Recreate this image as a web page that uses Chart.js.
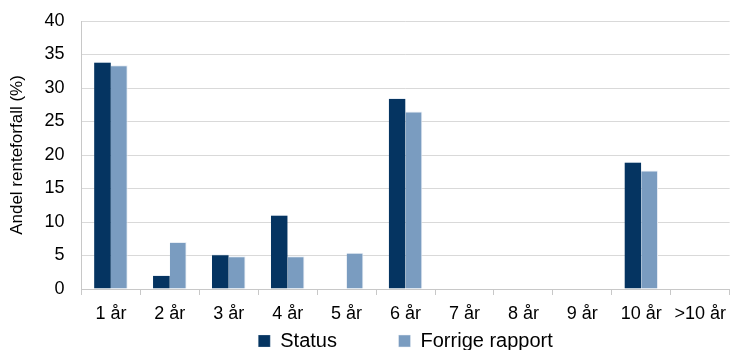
<!DOCTYPE html>
<html>
<head>
<meta charset="utf-8">
<script src="https://cdn.jsdelivr.net/npm/chart.js@4"></script>
<style>
    html, body { margin: 0; padding: 0; background: #ffffff; }
    #wrap { width: 734px; height: 350px; }
</style>
</head>
<body>
<div id="wrap"><canvas id="renteChart"></canvas></div>
<script>
// Andel renteforfall per løpetid
const categories = ['1 år', '2 år', '3 år', '4 år', '5 år', '6 år', '7 år', '8 år', '9 år', '10 år', '>10 år'];
const statusValues = [33.9, 2.1, 5.2, 11.1, 0, 28.5, 0, 0, 0, 19.0, 0];
const forrigeValues = [33.4, 7.0, 4.9, 4.9, 5.4, 26.5, 0, 0, 0, 17.7, 0];
const yTicks = [0, 5, 10, 15, 20, 25, 30, 35, 40];

Chart.defaults.font.family = '"Liberation Sans", Arial, sans-serif';
Chart.defaults.color = '#000000';

const ctx = document.getElementById('renteChart').getContext('2d');

new Chart(ctx, {
    type: 'bar',
    data: {
        labels: categories,
        datasets: [
            {
                label: 'Status',
                data: statusValues,
                backgroundColor: '#053461',
                borderColor: '#e8eef5',
                borderWidth: { top: 1, right: 0, left: 0, bottom: 0 },
                barPercentage: 1.0,
                categoryPercentage: 0.57
            },
            {
                label: 'Forrige rapport',
                data: forrigeValues,
                backgroundColor: '#7a9cc0',
                borderColor: '#e8eef5',
                borderWidth: { top: 1, right: 1, left: 0, bottom: 0 },
                barPercentage: 1.0,
                categoryPercentage: 0.57
            }
        ]
    },
    options: {
        responsive: true,
        maintainAspectRatio: false,
        animation: false,
        layout: {
            padding: { top: 0, right: 1, left: 0, bottom: -11 }
        },
        scales: {
            x: {
                grid: {
                    drawOnChartArea: false,
                    tickLength: 6,
                    color: '#c8c8c8'
                },
                border: { color: '#c8c8c8' },
                ticks: {
                    font: { size: 18 },
                    padding: 8,
                    maxRotation: 0
                },
                // keep the legend tight under the category labels
                afterFit: function(scale) {
                    scale.height = 36;
                }
            },
            y: {
                min: 0,
                max: 40,
                afterBuildTicks: function(axis) {
                    axis.ticks = yTicks.map(v => ({ value: v }));
                },
                afterFit: function(scale) {
                    scale.paddingTop = 21;
                },
                grid: {
                    color: '#d9d9d9',
                    drawTicks: false
                },
                border: { color: '#c8c8c8' },
                ticks: {
                    font: { size: 18 },
                    padding: 17
                },
                title: {
                    display: true,
                    text: 'Andel renteforfall (%)',
                    font: { size: 17 },
                    padding: { top: 7, bottom: 0 }
                }
            }
        },
        plugins: {
            legend: {
                position: 'bottom',
                fullSize: false,
                labels: {
                    boxWidth: 12,
                    boxHeight: 12,
                    padding: 6,
                    font: { size: 20 },
                    // wide gap between the two legend entries
                    generateLabels: function(chart) {
                        const items = Chart.defaults.plugins.legend.labels.generateLabels(chart);
                        items[0].text = items[0].text + '          ';
                        return items;
                    }
                }
            },
            tooltip: { enabled: false }
        }
    }
});
</script>
</body>
</html>
